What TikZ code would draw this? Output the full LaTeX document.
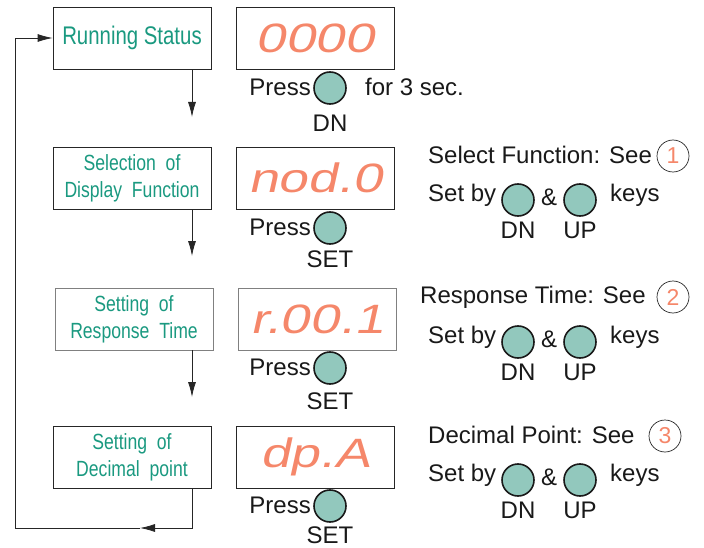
\documentclass[tikz,border=0pt]{standalone}
\usepackage{fontspec}
\setmainfont{Liberation Sans}
\newfontfamily\condfont{Liberation Sans}[FakeStretch=0.8]
\newfontfamily\segfont{Liberation Sans}[FakeSlant=0.22,FakeStretch=1.3]
\usetikzlibrary{arrows.meta}
\definecolor{grn}{HTML}{1A9980}
\definecolor{org}{HTML}{F5876A}
\definecolor{btnfill}{HTML}{92C8BD}
\tikzset{
  x=1pt,y=-1pt,
  fbox/.style={draw=black!85,line width=0.8pt,minimum width=158pt,minimum height=62pt,inner sep=0pt,
    text=grn,align=center,font=\condfont\fontsize{22}{27}\selectfont},
  dbox/.style={draw=black!85,line width=0.8pt,minimum width=158pt,minimum height=62pt,inner sep=0pt,
    text=org,font=\segfont\fontsize{41}{41}\selectfont},
  btn/.style={circle,draw=black!90,line width=1.6pt,fill=btnfill,minimum size=32pt,inner sep=0pt},
  num/.style={circle,draw=black!85,line width=0.7pt,minimum size=32pt,inner sep=0pt,text=org,font=\fontsize{23}{23}\selectfont},
  lbl/.style={inner sep=0pt,font=\fontsize{24}{24}\selectfont,text=black!90},
  arr/.style={draw=black!85,line width=0.8pt,-{Latex[length=15pt,width=8pt]}},
}
\begin{document}
\begin{tikzpicture}
\useasboundingbox (0,0) rectangle (704,548);
% left boxes
\node[fbox,font=\condfont\fontsize{25.5}{27}\selectfont] (s1) at (132,38) {Running Status};
\node[fbox] (s2) at (132,178) {Selection\ \ of\\Display\ \ Function};
\node[fbox,draw=black!50] (s3) at (134,319) {Setting\ \ of\\Response\ \ Time};
\node[fbox] (s4) at (132,457) {Setting\ \ of\\Decimal\ \ point};
% displays
\node[dbox] (d1) at (315,38) {0000};
\node[dbox] (d2) at (315,178) {nod.0};
\node[dbox,draw=black!50] (d3) at (317,319) {r.00.1};
\node[dbox] (d4) at (315,457) {dp.A};
% flow arrows
\coordinate (a1) at (192,117);
\coordinate (a2) at (192,256);
\coordinate (a3) at (192,397);
\draw[arr] (s1.south -| a1) -- (a1);
\draw[arr] (s2.south -| a2) -- (a2);
\draw[arr] (s3.south -| a3) -- (a3);
\coordinate (c1) at (192,528);
\coordinate (c2) at (140,528);
\coordinate (c3) at (15,528);
\coordinate (c4) at (15,38);
\draw[arr] (s4.south -| c1) -- (c1) -- (c2);
\draw[arr] (c2) -- (c3) -- (c4) -- (s1.west);
% press buttons
\node[btn] (p1) at (330,88) {};
\node[lbl,anchor=east] (pt1) at (311,87) {Press};
\node[lbl,anchor=west] (ft1) at (365,87) {for 3 sec.};
\node[lbl] (pl1) at (330,123) {DN};
\node[btn] (p2) at (330,228) {};
\node[lbl,anchor=east] (pt2) at (311,227) {Press};
\node[lbl] (pl2) at (330,259) {SET};
\node[btn] (p3) at (330,368) {};
\node[lbl,anchor=east] (pt3) at (311,367) {Press};
\node[lbl] (pl3) at (330,401) {SET};
\node[btn] (p4) at (330,506) {};
\node[lbl,anchor=east] (pt4) at (311,505) {Press};
\node[lbl] (pl4) at (330,535) {SET};
% right side 1
\node[lbl,anchor=west] (r1) at (428,155) {Select Function: See};
\node[num] (n1) at (673,156) {1};
\node[lbl,anchor=west] (sb1) at (428,195) {Set by};
\node[btn] (dn1) at (518,200) {};
\node[lbl] (amp1) at (549,197) {\&};
\node[btn] (up1) at (580,200) {};
\node[lbl,anchor=west] (k1) at (610,195) {keys};
\node[lbl] (dl1) at (518,230) {DN};
\node[lbl] (ul1) at (580,230) {UP};
% right side 2
\node[lbl,anchor=west] (r2) at (420,297) {Response Time: See};
\node[num] (n2) at (673,297) {2};
\node[lbl,anchor=west] (sb2) at (428,337) {Set by};
\node[btn] (dn2) at (518,342) {};
\node[lbl] (amp2) at (549,339) {\&};
\node[btn] (up2) at (580,342) {};
\node[lbl,anchor=west] (k2) at (610,337) {keys};
\node[lbl] (dl2) at (518,372) {DN};
\node[lbl] (ul2) at (580,372) {UP};
% right side 3
\node[lbl,anchor=west] (r3) at (428,435) {Decimal Point: See};
\node[num] (n3) at (665,436) {3};
\node[lbl,anchor=west] (sb3) at (428,475) {Set by};
\node[btn] (dn3) at (518,480) {};
\node[lbl] (amp3) at (549,477) {\&};
\node[btn] (up3) at (580,480) {};
\node[lbl,anchor=west] (k3) at (610,475) {keys};
\node[lbl] (dl3) at (518,510) {DN};
\node[lbl] (ul3) at (580,510) {UP};
\end{tikzpicture}
\end{document}
